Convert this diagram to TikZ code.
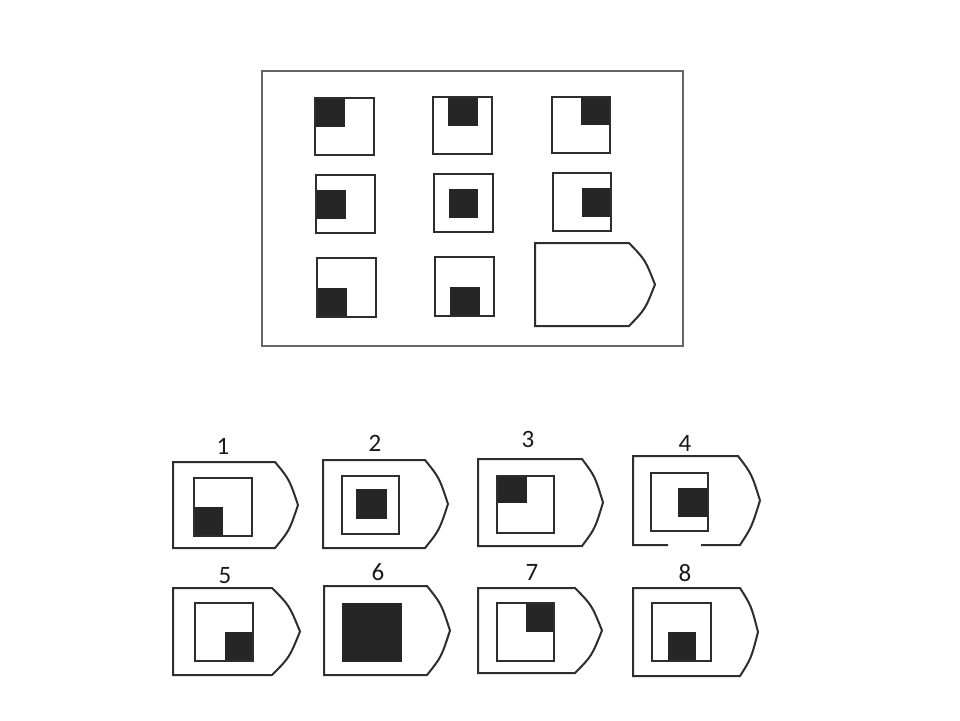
\documentclass[tikz,border=0pt]{standalone}
\usepackage{fontspec}
\setmainfont{Carlito}
\tikzset{
  frame/.style={draw=black!60, line width=1.6},
  box/.style={draw=black!82, line width=2},
  blk/.style={fill=black!85, draw=none},
  num/.style={font=\fontsize{25}{28}\selectfont, text=black!90, inner sep=0pt}
}
% x0, top, xe, tipx, bottom
\newcommand{\tabshape}[5]{%
  \draw[box] (#1,#2) -- (#3,#2)
    .. controls ({#3+0.62*(#4-#3)},{#2+0.2*(#5-#2)}) .. (#4,{(#2+#5)/2})
    .. controls ({#3+0.62*(#4-#3)},{#5-0.2*(#5-#2)}) .. (#3,#5)
    -- (#1,#5) -- cycle;}
% outline square x0,y0,x1,y1
\newcommand{\sq}[4]{\draw[box] (#1,#2) rectangle (#3,#4);}
\newcommand{\bk}[4]{\fill[blk] (#1,#2) rectangle (#3,#4);}
\begin{document}
\begin{tikzpicture}[x=1pt,y=-1pt]
\useasboundingbox (0,0) rectangle (960,720);
\fill[white] (0,0) rectangle (960,720);
% top frame
\draw[frame] (262,71) rectangle (683,346);
% row 1
\bk{315}{98}{345}{127}\sq{315}{98}{374}{155}
\bk{448}{97}{478}{126}\sq{433}{97}{492}{154}
\bk{581}{97}{610}{125}\sq{552}{97}{610}{153}
% row 2
\bk{316}{190}{346}{219}\sq{316}{175}{375}{233}
\bk{449}{189}{478}{218}\sq{434}{174}{493}{232}
\bk{582}{188}{611}{217}\sq{553}{173}{611}{231}
% row 3
\bk{317}{288}{347}{317}\sq{317}{258}{376}{317}
\bk{450}{287}{480}{316}\sq{435}{257}{494}{316}
% missing cell
\tabshape{535}{243}{629}{655}{326}
% answers
\node[num] (n1) at (223,446) {1};
\node[num] (n2) at (375,443) {2};
\node[num] (n3) at (528,439) {3};
\node[num] (n4) at (685,443) {4};
\node[num] (n5) at (225,576) {5};
\node[num] (n6) at (378,572) {6};
\node[num] (n7) at (532,572) {7};
\node[num] (n8) at (685,573) {8};
% 1
\tabshape{173}{462}{275}{298}{548}
\bk{194}{507}{223}{536}\sq{194}{478}{252}{536}
% 2
\tabshape{323}{460}{425}{448}{548}
\bk{356}{489}{387}{519}\sq{342}{476}{399}{534}
% 3
\tabshape{478}{459}{582}{603}{546}
\bk{497}{476}{527}{503}\sq{497}{476}{554}{533}
% 4 (gap in bottom edge)
\draw[box] (668,545) -- (633,545) -- (633,456) -- (738,456)
    .. controls ({738+0.62*22},{456+0.2*89}) .. (760,500.5)
    .. controls ({738+0.62*22},{545-0.2*89}) .. (740,545) -- (701,545);
\bk{678}{488}{708}{517}\sq{651}{473}{708}{531}
% 5
\tabshape{173}{588}{272}{300}{675}
\bk{225}{632}{253}{661}\sq{195}{603}{253}{661}
% 6
\tabshape{324}{586}{427}{450}{675}
\bk{342}{603}{402}{662}
% 7
\tabshape{478}{588}{575}{602}{673}
\bk{526}{603}{554}{632}\sq{497}{603}{554}{661}
% 8
\tabshape{633}{588}{740}{758}{676}
\bk{668}{632}{696}{661}\sq{652}{603}{711}{661}
\end{tikzpicture}
\end{document}
